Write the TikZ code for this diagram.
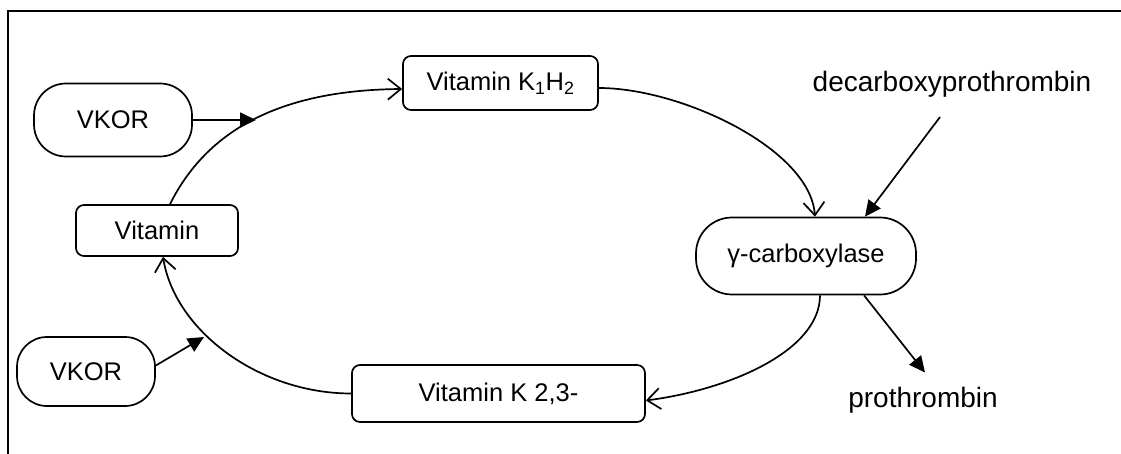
\documentclass[tikz,border=0pt]{standalone}
\usepackage{fontspec}
\setmainfont{Liberation Sans}
\usetikzlibrary{arrows.meta}

\tikzset{
  boxfont/.style={font=\fontsize{25.5}{30}\selectfont},
  labelfont/.style={font=\fontsize{28}{32}\selectfont},
  squarebox/.style={draw, line width=1.7pt, rounded corners=8pt, inner sep=0pt,
                    boxfont, align=center},
  pillbox/.style={draw, line width=1.7pt, rounded corners=32pt, inner sep=0pt,
                  boxfont, align=center},
  cycle/.style={line width=1.7pt, -{Straight Barb[length=13pt,width=21pt,line width=1.7pt]}},
  feed/.style={line width=1.7pt, -{Triangle[length=16pt,width=15pt]}},
}

\begin{document}
\begin{tikzpicture}[x=1pt,y=-1pt]
  \useasboundingbox (0,0) rectangle (1121,454);

  % frame edges
  \draw[line width=2pt] (8,454) -- (8,11) -- (1121,11);

  % compartments of the vitamin K cycle
  \node[pillbox, minimum width=158pt, minimum height=73pt] (vkorA) at (113,120) {VKOR};
  \node[squarebox, minimum width=195pt, minimum height=54pt] (kh) at (500.5,83) {Vitamin K\textsubscript{1}H\textsubscript{2}};
  \node[squarebox, minimum width=162pt, minimum height=51pt] (vit) at (157,230.5) {Vitamin};
  \node[pillbox, rounded corners=36pt, minimum width=220pt, minimum height=77pt] (gam) at (806,256) {γ-carboxylase};
  \node[pillbox, rounded corners=30pt, minimum width=138pt, minimum height=69pt] (vkorB) at (86,371.5) {VKOR};
  \node[squarebox, minimum width=293pt, minimum height=57pt] (epo) at (498.5,393.5) {Vitamin K 2,3-};

  \node[labelfont, inner sep=0pt, anchor=base] (decarb) at (952,92) {decarboxyprothrombin};
  \node[labelfont, inner sep=0pt, anchor=base] (proth) at (923,407) {prothrombin};

  % free ends of the VKOR arrows
  \coordinate (vkA) at (256,120);
  \coordinate (vkB) at (204,337);

  % cycle
  \draw[cycle] ([yshift=-5pt]kh.east) .. controls +(82,0) and +(-5,-68) .. ([xshift=9pt]gam.north);
  \draw[cycle] ([xshift=14pt]gam.south) .. controls +(0,55) and +(85,-11) .. ([yshift=-7pt]epo.east);
  \draw[cycle] (epo.west) .. controls +(-92,0) and +(12,74) .. ([xshift=6pt]vit.south);
  \draw[cycle] ([xshift=13pt]vit.north) .. controls +(40,-80) and +(-113,1) .. ([yshift=-6pt]kh.west);

  % inputs and outputs
  \draw[feed] (vkorA.east) -- (vkA);
  \draw[feed] ([yshift=6pt]vkorB.east) -- (vkB);
  \draw[feed] ([xshift=-12pt,yshift=-19pt]decarb.south) -- ([xshift=59pt]gam.north);
  \draw[feed] ([xshift=58pt]gam.south) -- ([xshift=2pt,yshift=14pt]proth.north);
\end{tikzpicture}
\end{document}
